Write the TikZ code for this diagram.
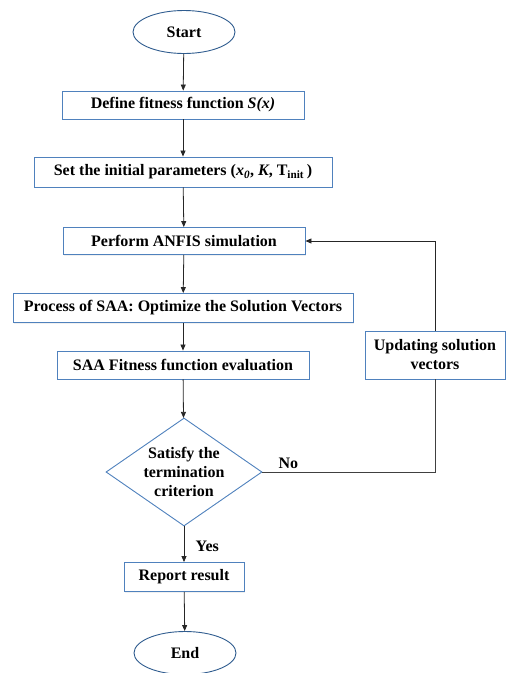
\documentclass[tikz,border=0pt]{standalone}
\usepackage{fontspec}
\setmainfont{Liberation Serif}
\usetikzlibrary{shapes.geometric,arrows.meta,shadows}
\definecolor{boxblue}{HTML}{4F81BD}
\definecolor{ovalblue}{HTML}{2F5C8F}
\begin{document}
\begin{tikzpicture}[x=1pt,y=1pt,
  every node/.style={font=\bfseries\fontsize{16}{19}\selectfont, text=black},
  procbox/.style={draw=boxblue, line width=0.9pt, fill=white, inner sep=0pt, minimum height=28pt,
     drop shadow={opacity=0.12, shadow xshift=1.2pt, shadow yshift=-1.2pt}},
  oval/.style={ellipse, draw=ovalblue, line width=0.9pt, fill=white, inner sep=0pt, minimum width=102pt, minimum height=43pt},
  decide/.style={diamond, draw=boxblue, line width=0.9pt, fill=white, inner sep=-3pt, aspect=1.44,
     minimum width=156pt, minimum height=108pt, align=center, font=\bfseries\fontsize{16}{19}\selectfont},
  flow/.style={draw=black!85, line width=0.8pt, -{Triangle[length=6pt,width=5pt]}},
  plain/.style={draw=black!75, line width=0.8pt}
]
\useasboundingbox (0,0) rectangle (506,-673);
\node[oval] (start) at (184,-32) {Start};
\node[procbox, minimum width=242pt] (def) at (183,-105) {Define fitness function \textit{S(x)}};
\node[procbox, minimum width=298pt, minimum height=30pt] (set) at (183,-172)
  {Set the initial parameters (\textit{x\textsubscript{0}}, \textit{K}, T\textsubscript{init}\,)};
\node[procbox, minimum width=242pt, minimum height=27pt] (anfis) at (184,-241) {Perform ANFIS simulation};
\node[procbox, minimum width=340pt, minimum height=29pt] (proc) at (183,-308) {Process of SAA: Optimize the Solution Vectors};
\node[procbox, minimum width=252pt] (eval) at (183,-365) {SAA Fitness function evaluation};
\node[decide] (dec) at (184,-472) {Satisfy the\\termination\\criterion};
\node[procbox, minimum width=120pt, minimum height=29pt] (rep) at (184,-577) {Report result};
\node[oval] (end) at (185,-653) {End};
\node[procbox, minimum width=140pt, minimum height=48pt, align=center] (upd) at (435,-355) {Updating solution\\vectors};
\coordinate (cornerB) at (upd.south |- dec.east);
\coordinate (cornerT) at (upd.north |- anfis.east);

\draw[flow] (start) -- (def);
\draw[flow] (def) -- (set);
\draw[flow] (set) -- (anfis);
\draw[flow] (anfis) -- (proc);
\draw[flow] (proc) -- (eval);
\draw[flow] (eval) -- (dec);
\draw[flow] (dec) -- node[right, xshift=8pt, yshift=-2pt] (yes) {Yes} (rep);
\draw[flow] (rep) -- (end);
\draw[plain] (dec.east) -- node[above, pos=0.15] (no) {No} (cornerB) -- (upd.south);
\draw[flow] (upd.north) -- (cornerT) -- (anfis.east);
\end{tikzpicture}
\end{document}
